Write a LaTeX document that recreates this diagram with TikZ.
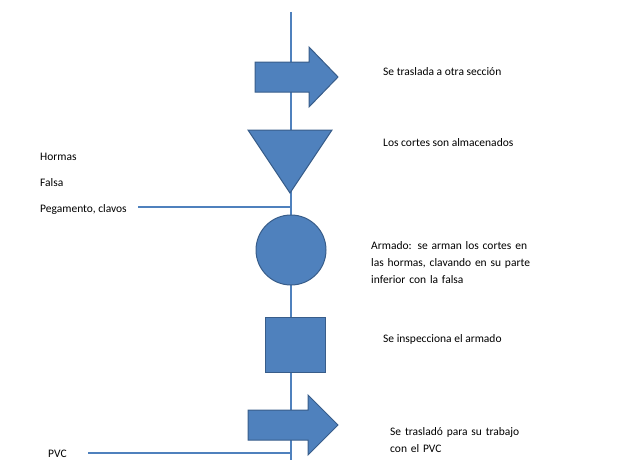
\documentclass[tikz,border=0pt]{standalone}
\usepackage{fontspec}
\setmainfont{Carlito}
\definecolor{bfill}{HTML}{4F81BD}
\definecolor{bdraw}{HTML}{385D8A}
\begin{document}
\begin{tikzpicture}[x=1pt,y=-1pt,
  sym/.style={fill=bfill,draw=bdraw,line width=1pt},
  flow/.style={draw=bfill,line width=1.8pt},
  lbl/.style={anchor=west,font=\fontsize{11.5}{17}\selectfont,align=left,inner sep=0pt}]
\useasboundingbox (0,0) rectangle (631,460);
\coordinate (top) at (291,12);
\coordinate (bot) at (291,460);
\draw[flow] (top) -- (bot);
\coordinate (l1) at (138,207); \coordinate (r1) at (291,207);
\coordinate (l2) at (88,453); \coordinate (r2) at (291,453);
\draw[flow] (l1) -- (r1);
\draw[flow] (l2) -- (r2);
\draw[sym] (255,62) -- (309,62) -- (309,47) -- (338,77) -- (309,107) -- (309,92) -- (255,92) -- cycle;
\draw[sym] (248,130) -- (332,130) -- (290,193) -- cycle;
\node[sym,circle,minimum size=70pt,inner sep=0pt] (c) at (291,250) {};
\node[sym,rectangle,minimum width=60pt,minimum height=55pt,inner sep=0pt] (s) at (295,344.5) {};
\draw[sym] (248,410) -- (308,410) -- (308,395) -- (338,425) -- (308,455) -- (308,440) -- (248,440) -- cycle;
\node[lbl] (t1) at (383,72) {Se traslada a otra sección};
\node[lbl] (t2) at (383,143) {Los cortes son almacenados};
\node[lbl] (t3) at (40,157) {Hormas};
\node[lbl] (t4) at (40,183) {Falsa};
\node[lbl] (t5) at (40,209) {Pegamento, clavos};
\node[lbl,text width=200pt] (t6) at (371,263) {Armado: se arman los cortes en\\ las hormas, clavando en su parte\\ inferior con la falsa};
\node[lbl] (t7) at (383,339) {Se inspecciona el armado};
\node[lbl,text width=200pt] (t8) at (390,440) {Se trasladó para su trabajo\\ con el PVC};
\node[lbl] (t9) at (48,454) {PVC};
\end{tikzpicture}
\end{document}
